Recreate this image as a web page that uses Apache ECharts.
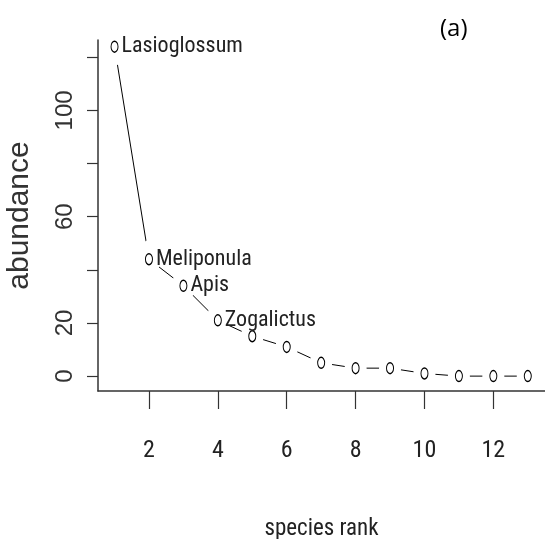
<!DOCTYPE html>
<html>
<head>
<meta charset="utf-8">
<title>rank abundance</title>
<script src="https://cdn.jsdelivr.net/npm/echarts@6/dist/echarts.min.js"></script>
<style>
  html, body { margin: 0; padding: 0; background: #fff; }
  #main { width: 545px; height: 539px; }
</style>
</head>
<body>
<div id="main"></div>
<script>
// species rank / abundance
var ranks = [1, 2, 3, 4, 5, 6, 7, 8, 9, 10, 11, 12, 13];
var abundance = [124, 44, 34, 21, 15, 11, 5, 3, 3, 1, 0, 0, 0];
var species = ['Lasioglossum', 'Meliponula', 'Apis', 'Zogalictus'];
var xTicks = [2, 4, 6, 8, 10, 12];
var yTicks = [0, 20, 40, 60, 80, 100, 120];
var yLabels = [0, 20, 60, 100];

var narrow = "'Roboto Condensed', 'Liberation Sans', sans-serif";
var plain = "'Liberation Sans', sans-serif";
var ellipse = 'path://M0,5.5A3.5,5.5,0,1,1,7,5.5A3.5,5.5,0,1,1,0,5.5Z';

var points = ranks.map(function (r, i) { return [r, abundance[i]]; });

var myChart = echarts.init(document.getElementById('main'));
var option = {
    animation: false,
    grid: { left: 98, right: 0, top: 40, bottom: 148, outerBoundsMode: 'none', containLabel: false },
    graphic: [{
        type: 'text',
        left: 440,
        top: 17,
        style: { text: '(a)', fontSize: 24, fontFamily: "'Open Sans', sans-serif", fill: '#000' }
    }],
    xAxis: {
        type: 'value',
        min: 0.52,
        max: 13.5,
        z: 10,
        name: 'species rank',
        nameLocation: 'middle',
        nameGap: 127,
        nameTextStyle: { fontSize: 23, fontFamily: narrow, color: '#222' },
        axisLine: { onZero: false, lineStyle: { color: '#333', width: 1.5 } },
        axisTick: { length: 18, lineStyle: { color: '#333', width: 1.2 }, customValues: xTicks },
        axisLabel: { customValues: xTicks, fontSize: 24, fontFamily: narrow, color: '#222', margin: 48 },
        splitLine: { show: false }
    },
    yAxis: {
        type: 'value',
        min: -5.6,
        max: 126.5,
        z: 10,
        name: 'abundance',
        nameLocation: 'middle',
        nameRotate: 90,
        nameGap: 63,
        nameTextStyle: { fontSize: 30, fontFamily: plain, color: '#333' },
        axisLine: { onZero: false, lineStyle: { color: '#333', width: 1.5 } },
        axisTick: { length: 11, lineStyle: { color: '#333', width: 1.2 }, customValues: yTicks },
        axisLabel: { customValues: yLabels, rotate: 90, fontSize: 24, fontFamily: plain, color: '#333', margin: 21 },
        splitLine: { show: false }
    },
    series: [
        {
            type: 'line',
            data: points,
            symbol: 'none',
            silent: true,
            z: 1,
            lineStyle: { color: '#000', width: 1 }
        },
        {
            // white gaps round each point, like type = "b"
            type: 'scatter',
            data: points,
            symbol: ellipse,
            symbolSize: [22, 38],
            silent: true,
            z: 2,
            itemStyle: { color: '#fff', opacity: 1 }
        },
        {
            type: 'scatter',
            data: points,
            symbol: ellipse,
            symbolSize: [7, 11],
            silent: true,
            z: 3,
            itemStyle: { color: '#fff', borderColor: '#000', borderWidth: 1.2, opacity: 1 },
            label: {
                show: true,
                position: 'right',
                distance: 3,
                fontSize: 22,
                fontFamily: narrow,
                color: '#222',
                formatter: function (p) { return species[p.dataIndex] || ''; }
            }
        }
    ]
};
myChart.setOption(option);
</script>
</body>
</html>
